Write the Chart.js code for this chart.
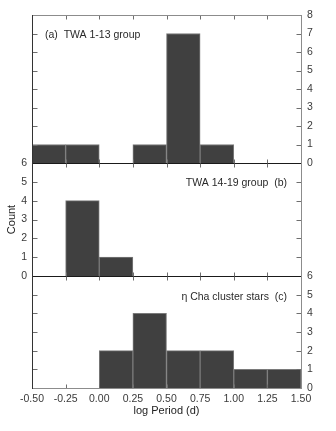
<!DOCTYPE html>
<html><head><meta charset="utf-8">
<script src="https://cdn.jsdelivr.net/npm/chart.js@4/dist/chart.umd.min.js"></script>
<style>
html,body{margin:0;padding:0;background:#fff;}
#wrap{position:relative;width:336px;height:431px;overflow:hidden;background:#fff;}
canvas{position:absolute;left:0;}
</style>
</head><body>
<div id="wrap">
<canvas id="cA" width="336" height="180" style="top:0px;width:336px;height:180px"></canvas>
<canvas id="cB" width="336" height="145" style="top:145px;width:336px;height:145px"></canvas>
<canvas id="cC" width="336" height="171" style="top:260px;width:336px;height:171px"></canvas>
</div>
<script>
// ---- data ----
const binStarts = [-0.50, -0.25, 0.00, 0.25, 0.50, 0.75, 1.00, 1.25];
const binWidth = 0.25;
const countsTWA1_13 = [1, 1, 0, 1, 7, 1, 0, 0];
const countsTWA14_19 = [0, 4, 1, 0, 0, 0, 0, 0];
const countsEtaCha = [0, 0, 2, 4, 2, 2, 1, 1];
const xTickValues = [-0.50, -0.25, 0.00, 0.25, 0.50, 0.75, 1.00, 1.25, 1.50];
const yTicksA = [0, 1, 2, 3, 4, 5, 6, 7, 8];
const yTicksBC = [0, 1, 2, 3, 4, 5, 6];
const labelA = '(a)  TWA 1-13 group';
const labelB = 'TWA 14-19 group  (b)';
const labelC = '\u03B7 Cha cluster stars  (c)';
const xTitle = 'log Period (d)';
const yTitle = 'Count';

Chart.defaults.font.family = "'Liberation Sans', Arial, Helvetica, sans-serif";
Chart.defaults.font.size = 10;
Chart.defaults.color = '#333';

function toPoints(counts) {
  return binStarts.map((s, i) => ({ x: s + binWidth / 2, y: counts[i] === 0 ? null : counts[i] }));
}

const framePlugin = {
  id: 'frame',
  afterDatasetsDraw(chart, args, o) {
    const { ctx, chartArea: a, scales } = chart;
    const xs = scales.x, ys = scales.y;
    const L = Math.round(a.left) + 0.5, R = Math.round(a.right) + 0.5;
    const T = Math.round(a.top) + 0.5, B = Math.round(a.bottom) + 0.5;
    ctx.save();
    ctx.lineWidth = 1;
    ctx.strokeStyle = '#6e6e6e';
    ctx.beginPath();
    xTickValues.forEach(v => {
      if (v <= xs.min || v >= xs.max) return;
      const px = Math.round(xs.getPixelForValue(v)) + 0.5;
      ctx.moveTo(px, T); ctx.lineTo(px, T + 4);
      ctx.moveTo(px, B); ctx.lineTo(px, B - 4);
    });
    o.yTicks.forEach(v => {
      if (v <= ys.min || v >= ys.max) return;
      const py = Math.round(ys.getPixelForValue(v)) + 0.5;
      ctx.moveTo(L, py); ctx.lineTo(L + 5, py);
      ctx.moveTo(R, py); ctx.lineTo(R - 5, py);
    });
    ctx.stroke();
    const seg = (x1, y1, x2, y2, c) => { ctx.strokeStyle = c; ctx.beginPath(); ctx.moveTo(x1, y1); ctx.lineTo(x2, y2); ctx.stroke(); };
    if (o.top) seg(L, T, R, T, o.top);
    seg(L - 0.5, B, R + 0.5, B, o.bottom);
    seg(L, T - 0.5, L, B + 0.5, '#333');
    seg(R, T - 0.5, R, B + 0.5, '#8c8c8c');
    // panel label
    ctx.fillStyle = '#2a2a2a';
    ctx.font = "10.5px 'Liberation Sans', Arial, sans-serif";
    ctx.textBaseline = 'middle';
    if (o.align === 'left') { ctx.textAlign = 'left'; ctx.fillText(o.label, a.left + 13, a.top + o.dy); }
    else { ctx.textAlign = 'right'; ctx.fillText(o.label, a.right - 14, a.top + o.dy); }
    ctx.restore();
  }
};

function makeChart(id, counts, cfg) {
  const yTickArr = cfg.yTicks;
  return new Chart(document.getElementById(id), {
    type: 'bar',
    data: {
      datasets: [{
        data: toPoints(counts),
        backgroundColor: '#404040',
        borderColor: '#7a7a7a',
        borderWidth: 1,
        borderSkipped: 'start',
        barPercentage: 1,
        categoryPercentage: 1
      }]
    },
    options: {
      responsive: false,
      animation: false,
      devicePixelRatio: 1,
      layout: { padding: cfg.padding },
      plugins: {
        legend: { display: false },
        tooltip: { enabled: false },
        frame: { yTicks: yTickArr, top: cfg.topLine, bottom: cfg.bottomLine, label: cfg.label, align: cfg.align, dy: cfg.dy }
      },
      scales: {
        x: {
          type: 'linear',
          min: xTickValues[0],
          max: xTickValues[xTickValues.length - 1],
          offset: false,
          display: cfg.showX,
          grid: { display: false, drawTicks: false, offset: false },
          border: { display: false },
          afterBuildTicks: s => { s.ticks = xTickValues.map(v => ({ value: v })); },
          afterFit: s => { s.height = cfg.showX ? 43 : 0; },
          ticks: { display: cfg.showX, padding: 5, color: '#3a3a3a', font: { size: 10.5 }, maxRotation: 0, autoSkip: false,
                   callback: v => Number(v).toFixed(2) },
          title: { display: cfg.showX, text: xTitle, color: '#222', font: { size: 11 }, padding: { top: 0, bottom: 13 } }
        },
        y: {
          position: 'left',
          min: 0,
          max: yTickArr[yTickArr.length - 1],
          grid: { display: false, drawTicks: false },
          border: { display: false },
          afterBuildTicks: s => { s.ticks = yTickArr.map(v => ({ value: v })); },
          afterFit: s => { s.width = 32; },
          ticks: { display: cfg.leftLabels, padding: 5, color: '#3a3a3a', font: { size: 10.5 } },
          title: { display: cfg.leftLabels, text: yTitle, color: '#222', font: { size: 11 }, padding: { top: 5, bottom: 0 } }
        },
        y2: {
          axis: 'y',
          position: 'right',
          min: 0,
          max: yTickArr[yTickArr.length - 1],
          grid: { display: false, drawTicks: false },
          border: { display: false },
          afterBuildTicks: s => { s.ticks = yTickArr.map(v => ({ value: v })); },
          afterFit: s => { s.width = 35; },
          ticks: { display: cfg.rightLabels, padding: 6, color: '#3a3a3a', font: { size: 10.5 } }
        }
      }
    },
    plugins: [framePlugin]
  });
}

makeChart('cA', countsTWA1_13, {
  yTicks: yTicksA, padding: { top: 15, bottom: 17, left: 0, right: 0 },
  showX: false, leftLabels: false, rightLabels: true,
  topLine: '#8c8c8c', bottomLine: '#1a1a1a', label: labelA, align: 'left', dy: 20
});
makeChart('cB', countsTWA14_19, {
  yTicks: yTicksBC, padding: { top: 18, bottom: 14, left: 0, right: 0 },
  showX: false, leftLabels: true, rightLabels: false,
  topLine: null, bottomLine: '#1a1a1a', label: labelB, align: 'right', dy: 20
});
makeChart('cC', countsEtaCha, {
  yTicks: yTicksBC, padding: { top: 16, bottom: 0, left: 0, right: 0 },
  showX: true, leftLabels: false, rightLabels: true,
  topLine: null, bottomLine: '#8c8c8c', label: labelC, align: 'right', dy: 21
});
</script>
</body></html>
